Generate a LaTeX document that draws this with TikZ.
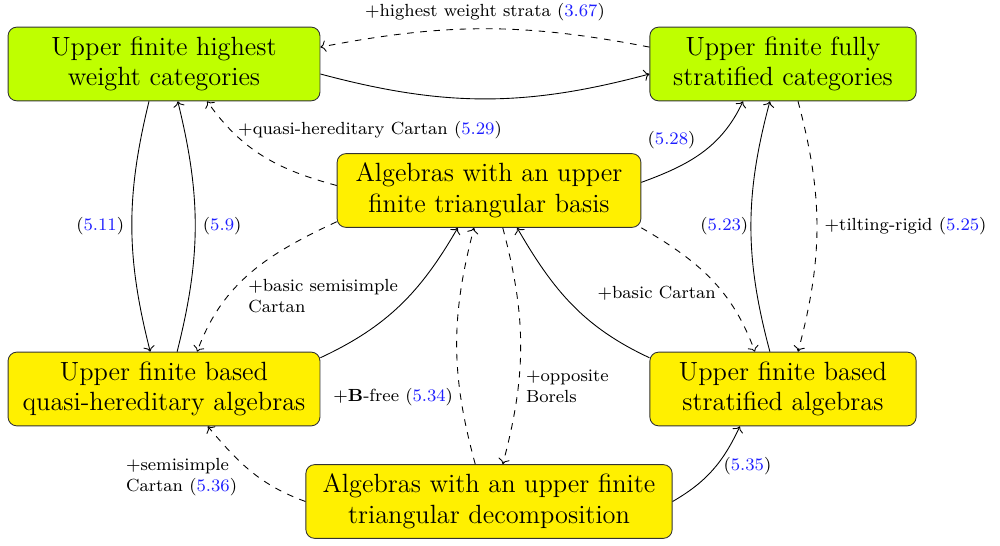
\documentclass[tikz,border=0pt]{standalone}
\usepackage{xcolor}
\definecolor{boxlime}{RGB}{191,255,0}
\definecolor{boxyellow}{RGB}{255,240,0}
\definecolor{reflink}{RGB}{30,30,255}
\usetikzlibrary{arrows.meta, positioning}
\newcommand{\refnum}[1]{(\textcolor{reflink}{#1})}

\begin{document}
\begin{tikzpicture}[
    box/.style={draw=black!80, rounded corners=4pt, align=center, font=\large, minimum height=1.18cm},
    lbl/.style={font=\footnotesize, align=left},
    imp/.style={->},
    cond/.style={->, dashed}]
  \useasboundingbox (0,0) rectangle (16,8.72);

  % Categories
  \node[box, fill=boxlime, minimum width=4.99cm] (hwc) at (2.624,7.696) {Upper finite highest\\weight categories};
  \node[box, fill=boxlime, minimum width=4.26cm] (fsc) at (12.528,7.696) {Upper finite fully\\stratified categories};

  % Algebras
  \node[box, fill=boxyellow, minimum width=4.86cm] (tb) at (7.824,5.672) {Algebras with an upper\\finite triangular basis};
  \node[box, fill=boxyellow, minimum width=4.99cm] (qha) at (2.624,2.496) {Upper finite based\\quasi-hereditary algebras};
  \node[box, fill=boxyellow, minimum width=4.26cm] (sa) at (12.528,2.496) {Upper finite based\\stratified algebras};
  \node[box, fill=boxyellow, minimum width=5.86cm] (td) at (7.824,0.696) {Algebras with an upper finite\\triangular decomposition};

  % Top row
  \draw[cond] ([yshift=0.27cm]fsc.west) to[bend right=11] node[lbl, above] {+highest weight strata \refnum{3.67}} ([yshift=0.27cm]hwc.east);
  \draw[imp] ([yshift=-0.16cm]hwc.east) to[bend right=15] ([yshift=-0.16cm]fsc.west);

  % Left column
  \draw[imp] ([xshift=-0.24cm]hwc.south) to[bend right=14] node[lbl, left] {\refnum{5.11}} ([xshift=-0.22cm]qha.north);
  \draw[imp] ([xshift=0.21cm]qha.north) to[bend right=14] node[lbl, right] {\refnum{5.9}} ([xshift=0.22cm]hwc.south);

  % Right column
  \draw[imp] ([xshift=-0.21cm]sa.north) to[bend left=15] node[lbl, left, xshift=0.08cm] {\refnum{5.23}} ([xshift=-0.21cm]fsc.south);
  \draw[cond] ([xshift=0.24cm]fsc.south) to[bend left=15] node[lbl, right] {+tilting-rigid \refnum{5.25}} ([xshift=0.24cm]sa.north);

  % From the triangular basis
  \draw[cond] ([yshift=0.08cm]tb.west) to[out=165,in=-55] node[lbl, pos=0.78, right] {+quasi-hereditary Cartan \refnum{5.29}} ([xshift=0.69cm]hwc.south);
  \draw[imp] ([yshift=0.13cm]tb.east) to[out=20,in=-115] node[lbl, pos=0.45, above left, xshift=0.1cm] {\refnum{5.28}} ([xshift=-0.64cm]fsc.south);
  \draw[cond] ([yshift=-0.5cm]tb.west) to[out=205,in=70] node[lbl, pos=0.68, right, xshift=0.2cm] {+basic semisimple\\Cartan} ([xshift=0.53cm]qha.north);
  \draw[cond] (tb.south east) to[out=-30,in=110] node[lbl, pos=0.62, left] {+basic Cartan} ([xshift=-0.45cm]sa.north);

  % Into the triangular basis
  \draw[imp] ([yshift=0.5cm]qha.east) to[out=25,in=-120] ([xshift=-0.5cm]tb.south);
  \draw[imp] ([yshift=0.5cm]sa.west) to[out=155,in=-60] ([xshift=0.45cm]tb.south);

  % Triangular decomposition
  \draw[cond] ([xshift=-0.22cm]td.north) to[bend left=15] node[lbl, pos=0.27, left] {+$\mathbf{B}$-free \refnum{5.34}} ([xshift=-0.24cm]tb.south);
  \draw[cond] ([xshift=0.22cm]tb.south) to[bend left=15] node[lbl, pos=0.68, right] {+opposite\\Borels} ([xshift=0.22cm]td.north);
  \draw[cond] (td.west) to[out=160,in=-50] node[lbl, pos=0.42, left, xshift=-0.22cm] {+semisimple\\Cartan \refnum{5.36}} ([xshift=0.7cm]qha.south);
  \draw[imp] (td.east) to[out=30,in=-115] node[lbl, pos=0.55, right] {\refnum{5.35}} ([xshift=-0.69cm]sa.south);
\end{tikzpicture}
\end{document}
